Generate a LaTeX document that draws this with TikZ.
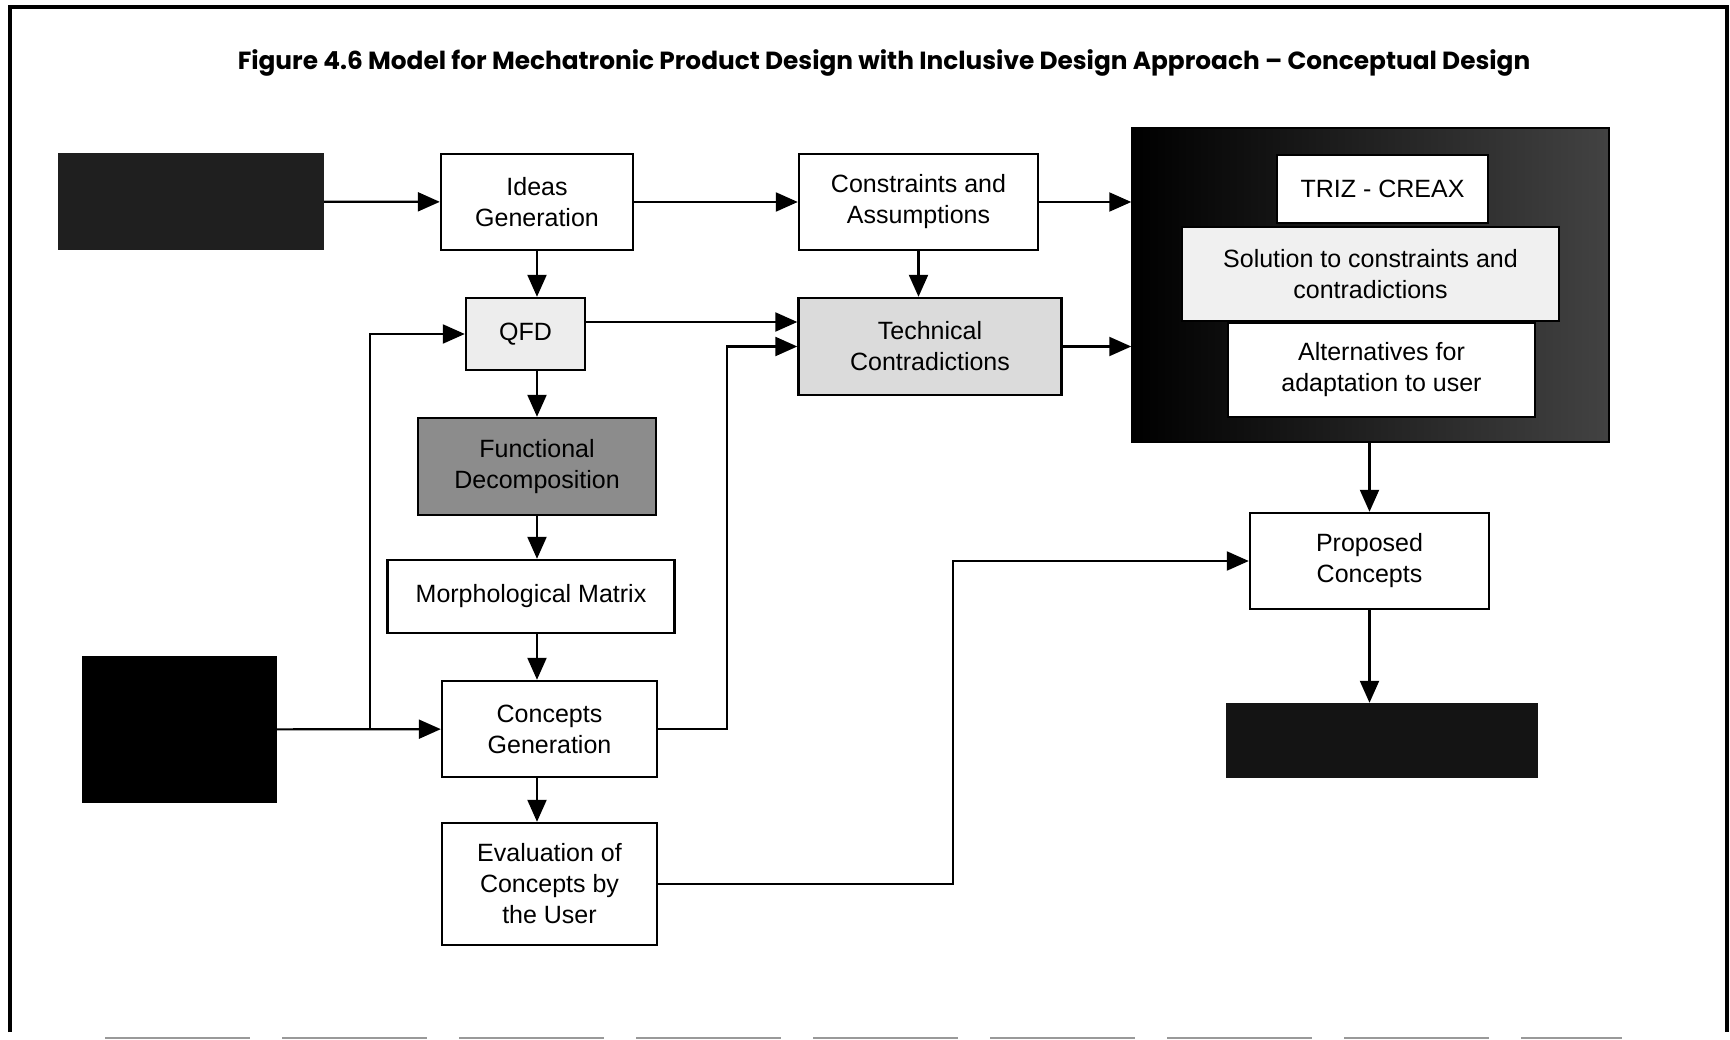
\documentclass[tikz,border=0pt]{standalone}
\usepackage{fontspec}
\setmainfont{Liberation Sans}
\newfontfamily\titlefont{Poppins}
\usetikzlibrary{arrows.meta}

\begin{document}
\begin{tikzpicture}[x=1pt,y=-1pt,font=\fontsize{25}{31}\selectfont,
    every node/.style={align=center},
    box/.style={draw,line width=2.4pt,fill=white,inner sep=0pt},
    blank/.style={draw=none,inner sep=0pt},
    arr/.style={line width=2.2pt,-{Triangle[length=22pt,width=19pt]}}]
  \useasboundingbox (0,0) rectangle (1730,1040);
  % frame of the scanned page
  \draw[line width=3.5pt] (10,1032) -- (10,7) -- (1727,7) -- (1727,1032);
  \draw[black!40,line width=2.5pt,dash pattern=on 145pt off 32pt] (105,1038) -- (1622,1038);
  \node[font=\titlefont\bfseries\fontsize{24.8}{28}\selectfont] (title) at (884,63)
    {Figure 4.6 Model for Mechatronic Product Design with Inclusive Design Approach – Conceptual Design};

  % left column
  \node[blank,fill=black!88,minimum width=266pt,minimum height=97pt] (srcTop) at (191,201.5) {};
  \node[box,minimum width=192pt,minimum height=96pt] (ideas) at (537,202) {Ideas\\Generation};
  \node[box,fill=black!7,minimum width=119pt,minimum height=72pt] (qfd) at (525.5,334) {QFD};
  \node[box,fill=black!45,minimum width=238pt,minimum height=97pt] (funct) at (537,466.5) {Functional\\Decomposition};
  \node[box,minimum width=287pt,minimum height=73pt] (morph) at (531,596.5) {Morphological Matrix};
  \node[blank,fill=black,minimum width=195pt,minimum height=147pt] (srcLeft) at (179.5,729.5) {};
  \node[box,minimum width=215pt,minimum height=96pt] (cgen) at (549.5,729) {Concepts\\Generation};
  \node[box,minimum width=215pt,minimum height=122pt] (eval) at (549.5,884) {Evaluation of\\Concepts by\\the User};

  % middle column
  \node[box,minimum width=239pt,minimum height=96pt] (constr) at (918.5,202) {Constraints and\\Assumptions};
  \node[box,fill=black!14,minimum width=263pt,minimum height=97pt] (tech) at (930,346.5) {Technical\\Contradictions};

  % TRIZ block
  \node[draw,line width=1.5pt,left color=black,right color=black!74,minimum width=477pt,minimum height=314pt] (triz) at (1370.5,285) {};
  \node[box,line width=1.5pt,minimum width=211pt,minimum height=68pt] (creax) at (1382.5,189) {TRIZ - CREAX};
  \node[box,line width=1.5pt,fill=black!6,minimum width=377pt,minimum height=94pt] (sol) at (1370.5,274) {Solution to constraints and\\contradictions};
  \node[box,line width=1.5pt,minimum width=307pt,minimum height=94pt] (alt) at (1381.5,370) {Alternatives for\\adaptation to user};
  \node[box,minimum width=239pt,minimum height=96pt] (proposed) at (1369.5,561) {Proposed\\Concepts};
  \node[blank,fill=black!92,minimum width=312pt,minimum height=75pt] (sink) at (1382,740.5) {};

  \coordinate (fork) at (370,0);
  \coordinate (riser) at (727,0);
  \coordinate (rail) at (953,0);

  \draw[arr] (srcTop) -- (ideas);
  \draw[arr] (ideas) -- (constr);
  \draw[arr] (constr) -- (constr -| triz.west);
  \draw[arr] (ideas) -- (ideas |- qfd.north);
  \draw[arr] (constr) -- (constr |- tech.north);
  \draw[arr] ([yshift=12pt]qfd.east) -- ([yshift=12pt]qfd.east -| tech.west);
  \draw[arr] (tech) -- (tech -| triz.west);
  \draw[arr] (ideas |- qfd.south) -- (funct);
  \draw[arr] (funct) -- (funct |- morph.north);
  \draw[arr] (ideas |- morph.south) -- (ideas |- cgen.north);
  \draw[arr] (ideas |- cgen.south) -- (ideas |- eval.north);
  \draw[arr] (srcLeft) -- (cgen);
  \draw[arr] (fork |- srcLeft) -- (fork |- qfd) -- (qfd);
  \draw[arr] (cgen) -- (riser |- cgen) -- (riser |- tech.west) -- (tech.west);
  \draw[arr] (eval) -- (rail |- eval) -- (rail |- proposed) -- (proposed);
  \draw[arr] (proposed |- triz.south) -- (proposed);
  \draw[arr] (proposed) -- (proposed |- sink.north);
\end{tikzpicture}
\end{document}
